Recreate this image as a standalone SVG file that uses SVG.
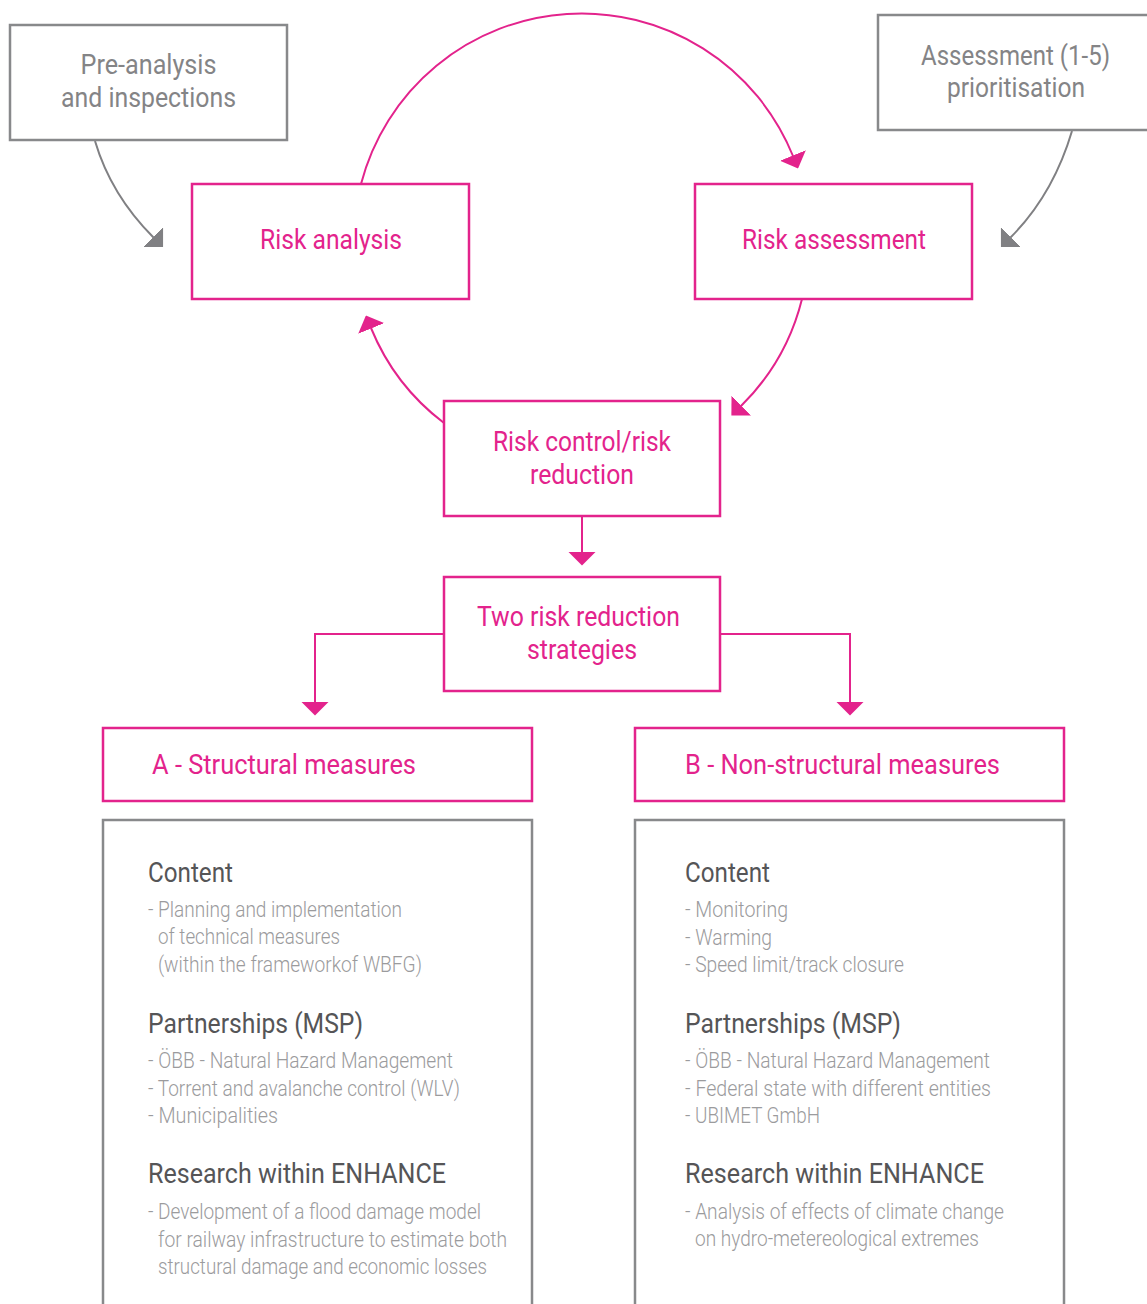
<svg xmlns="http://www.w3.org/2000/svg" width="1147" height="1304" viewBox="0 0 1147 1304">
<style>
text{font-family:Roboto,"Liberation Sans",sans-serif}
.pbox{fill:none;stroke:#e3238c;stroke-width:2.5}
.gbox{fill:none;stroke:#88898b;stroke-width:2.5}
.pt{fill:#e3238c;font-size:28px;text-anchor:middle}
.gt{fill:#848486;font-size:28px;text-anchor:middle}
.at{fill:#e3238c;font-size:27px}
.h{fill:#555557;font-size:27px}
.i{fill:#9b9b9d;font-size:21.5px;font-weight:300}
.pc{fill:none;stroke:#e3238c;stroke-width:2}
.gc{fill:none;stroke:#808083;stroke-width:2}
</style>
<defs>
<marker id="mp" viewBox="0 0 14 28" markerWidth="14" markerHeight="28" refX="0.5" refY="14" markerUnits="userSpaceOnUse" orient="auto"><path d="M0,0 L14,14 L0,28 z" fill="#e3238c"/></marker>
<marker id="mg" viewBox="0 0 14 28" markerWidth="14" markerHeight="28" refX="0.5" refY="14" markerUnits="userSpaceOnUse" orient="auto"><path d="M0,0 L14,14 L0,28 z" fill="#808083"/></marker>
</defs>
<g id="connectors">
<path class="pc" d="M361,184 A228,228 0 0 1 793,156" marker-end="url(#mp)"/>
<path class="pc" d="M802,299 A227,227 0 0 1 741,406" marker-end="url(#mp)"/>
<path class="pc" d="M444,423 A227,227 0 0 1 371,328" marker-end="url(#mp)"/>
<path class="gc" d="M95,141 Q111,195 153.5,237.5" marker-end="url(#mg)"/>
<path class="gc" d="M1072,131 Q1053,195 1010.5,237.5" marker-end="url(#mg)"/>
<path class="pc" d="M582,516 V552" marker-end="url(#mp)"/>
<path class="pc" d="M444,634 H315 V702" marker-end="url(#mp)"/>
<path class="pc" d="M720,634 H850 V702" marker-end="url(#mp)"/>
</g>
<g id="pre-analysis">
<rect class="gbox" x="10" y="25" width="277" height="115"/>
<text class="gt" x="148.5" y="74" textLength="136" lengthAdjust="spacingAndGlyphs">Pre-analysis</text>
<text class="gt" x="148.5" y="107" textLength="175" lengthAdjust="spacingAndGlyphs">and inspections</text>
</g>
<g id="assessment-prioritisation">
<rect class="gbox" x="878" y="15" width="275" height="115"/>
<text class="gt" x="1015.5" y="65" textLength="189" lengthAdjust="spacingAndGlyphs">Assessment (1-5)</text>
<text class="gt" x="1016" y="97" textLength="138" lengthAdjust="spacingAndGlyphs">prioritisation</text>
</g>
<g id="risk-analysis">
<rect class="pbox" x="192" y="184" width="277" height="115"/>
<text class="pt" x="331" y="249" textLength="142" lengthAdjust="spacingAndGlyphs">Risk analysis</text>
</g>
<g id="risk-assessment">
<rect class="pbox" x="695" y="184" width="277" height="115"/>
<text class="pt" x="834" y="249" textLength="184" lengthAdjust="spacingAndGlyphs">Risk assessment</text>
</g>
<g id="risk-control">
<rect class="pbox" x="444" y="401" width="276" height="115"/>
<text class="pt" x="582" y="451" textLength="178" lengthAdjust="spacingAndGlyphs">Risk control/risk</text>
<text class="pt" x="582" y="484" textLength="104" lengthAdjust="spacingAndGlyphs">reduction</text>
</g>
<g id="two-strategies">
<rect class="pbox" x="444" y="577" width="276" height="114"/>
<text class="pt" x="578.5" y="626" textLength="203" lengthAdjust="spacingAndGlyphs">Two risk reduction</text>
<text class="pt" x="582" y="659" textLength="110" lengthAdjust="spacingAndGlyphs">strategies</text>
</g>
<g id="structural">
<rect class="pbox" x="103" y="728" width="429" height="73"/>
<text class="at" x="152" y="774" textLength="264" lengthAdjust="spacingAndGlyphs">A - Structural measures</text>
</g>
<g id="non-structural">
<rect class="pbox" x="635" y="728" width="429" height="73"/>
<text class="at" x="685" y="774" textLength="315" lengthAdjust="spacingAndGlyphs">B - Non-structural measures</text>
</g>
<g id="structural-details">
<rect class="gbox" x="103" y="820" width="429" height="500"/>
<text class="h" x="148" y="882" textLength="85" lengthAdjust="spacingAndGlyphs">Content</text>
<text class="i" x="148" y="917" textLength="254" lengthAdjust="spacingAndGlyphs">- Planning and implementation</text>
<text class="i" x="158" y="944" textLength="182" lengthAdjust="spacingAndGlyphs">of technical measures</text>
<text class="i" x="158" y="972" textLength="264" lengthAdjust="spacingAndGlyphs">(within the frameworkof WBFG)</text>
<text class="h" x="148" y="1033" textLength="215" lengthAdjust="spacingAndGlyphs">Partnerships (MSP)</text>
<text class="i" x="148" y="1068" textLength="305" lengthAdjust="spacingAndGlyphs">- ÖBB - Natural Hazard Management</text>
<text class="i" x="148" y="1096" textLength="312" lengthAdjust="spacingAndGlyphs">- Torrent and avalanche control (WLV)</text>
<text class="i" x="148" y="1123" textLength="130" lengthAdjust="spacingAndGlyphs">- Municipalities</text>
<text class="h" x="148" y="1183" textLength="298" lengthAdjust="spacingAndGlyphs">Research within ENHANCE</text>
<text class="i" x="148" y="1219" textLength="333" lengthAdjust="spacingAndGlyphs">- Development of a flood damage model</text>
<text class="i" x="158" y="1247" textLength="349" lengthAdjust="spacingAndGlyphs">for railway infrastructure to estimate both</text>
<text class="i" x="158" y="1274" textLength="329" lengthAdjust="spacingAndGlyphs">structural damage and economic losses</text>
</g>
<g id="non-structural-details">
<rect class="gbox" x="635" y="820" width="429" height="500"/>
<text class="h" x="685" y="882" textLength="85" lengthAdjust="spacingAndGlyphs">Content</text>
<text class="i" x="685" y="917" textLength="103" lengthAdjust="spacingAndGlyphs">- Monitoring</text>
<text class="i" x="685" y="945" textLength="87" lengthAdjust="spacingAndGlyphs">- Warming</text>
<text class="i" x="685" y="972" textLength="219" lengthAdjust="spacingAndGlyphs">- Speed limit/track closure</text>
<text class="h" x="685" y="1033" textLength="216" lengthAdjust="spacingAndGlyphs">Partnerships (MSP)</text>
<text class="i" x="685" y="1068" textLength="305" lengthAdjust="spacingAndGlyphs">- ÖBB - Natural Hazard Management</text>
<text class="i" x="685" y="1096" textLength="306" lengthAdjust="spacingAndGlyphs">- Federal state with different entities</text>
<text class="i" x="685" y="1123" textLength="135" lengthAdjust="spacingAndGlyphs">- UBIMET GmbH</text>
<text class="h" x="685" y="1183" textLength="299" lengthAdjust="spacingAndGlyphs">Research within ENHANCE</text>
<text class="i" x="685" y="1219" textLength="319" lengthAdjust="spacingAndGlyphs">- Analysis of effects of climate change</text>
<text class="i" x="695" y="1246" textLength="284" lengthAdjust="spacingAndGlyphs">on hydro-metereological extremes</text>
</g>
</svg>
